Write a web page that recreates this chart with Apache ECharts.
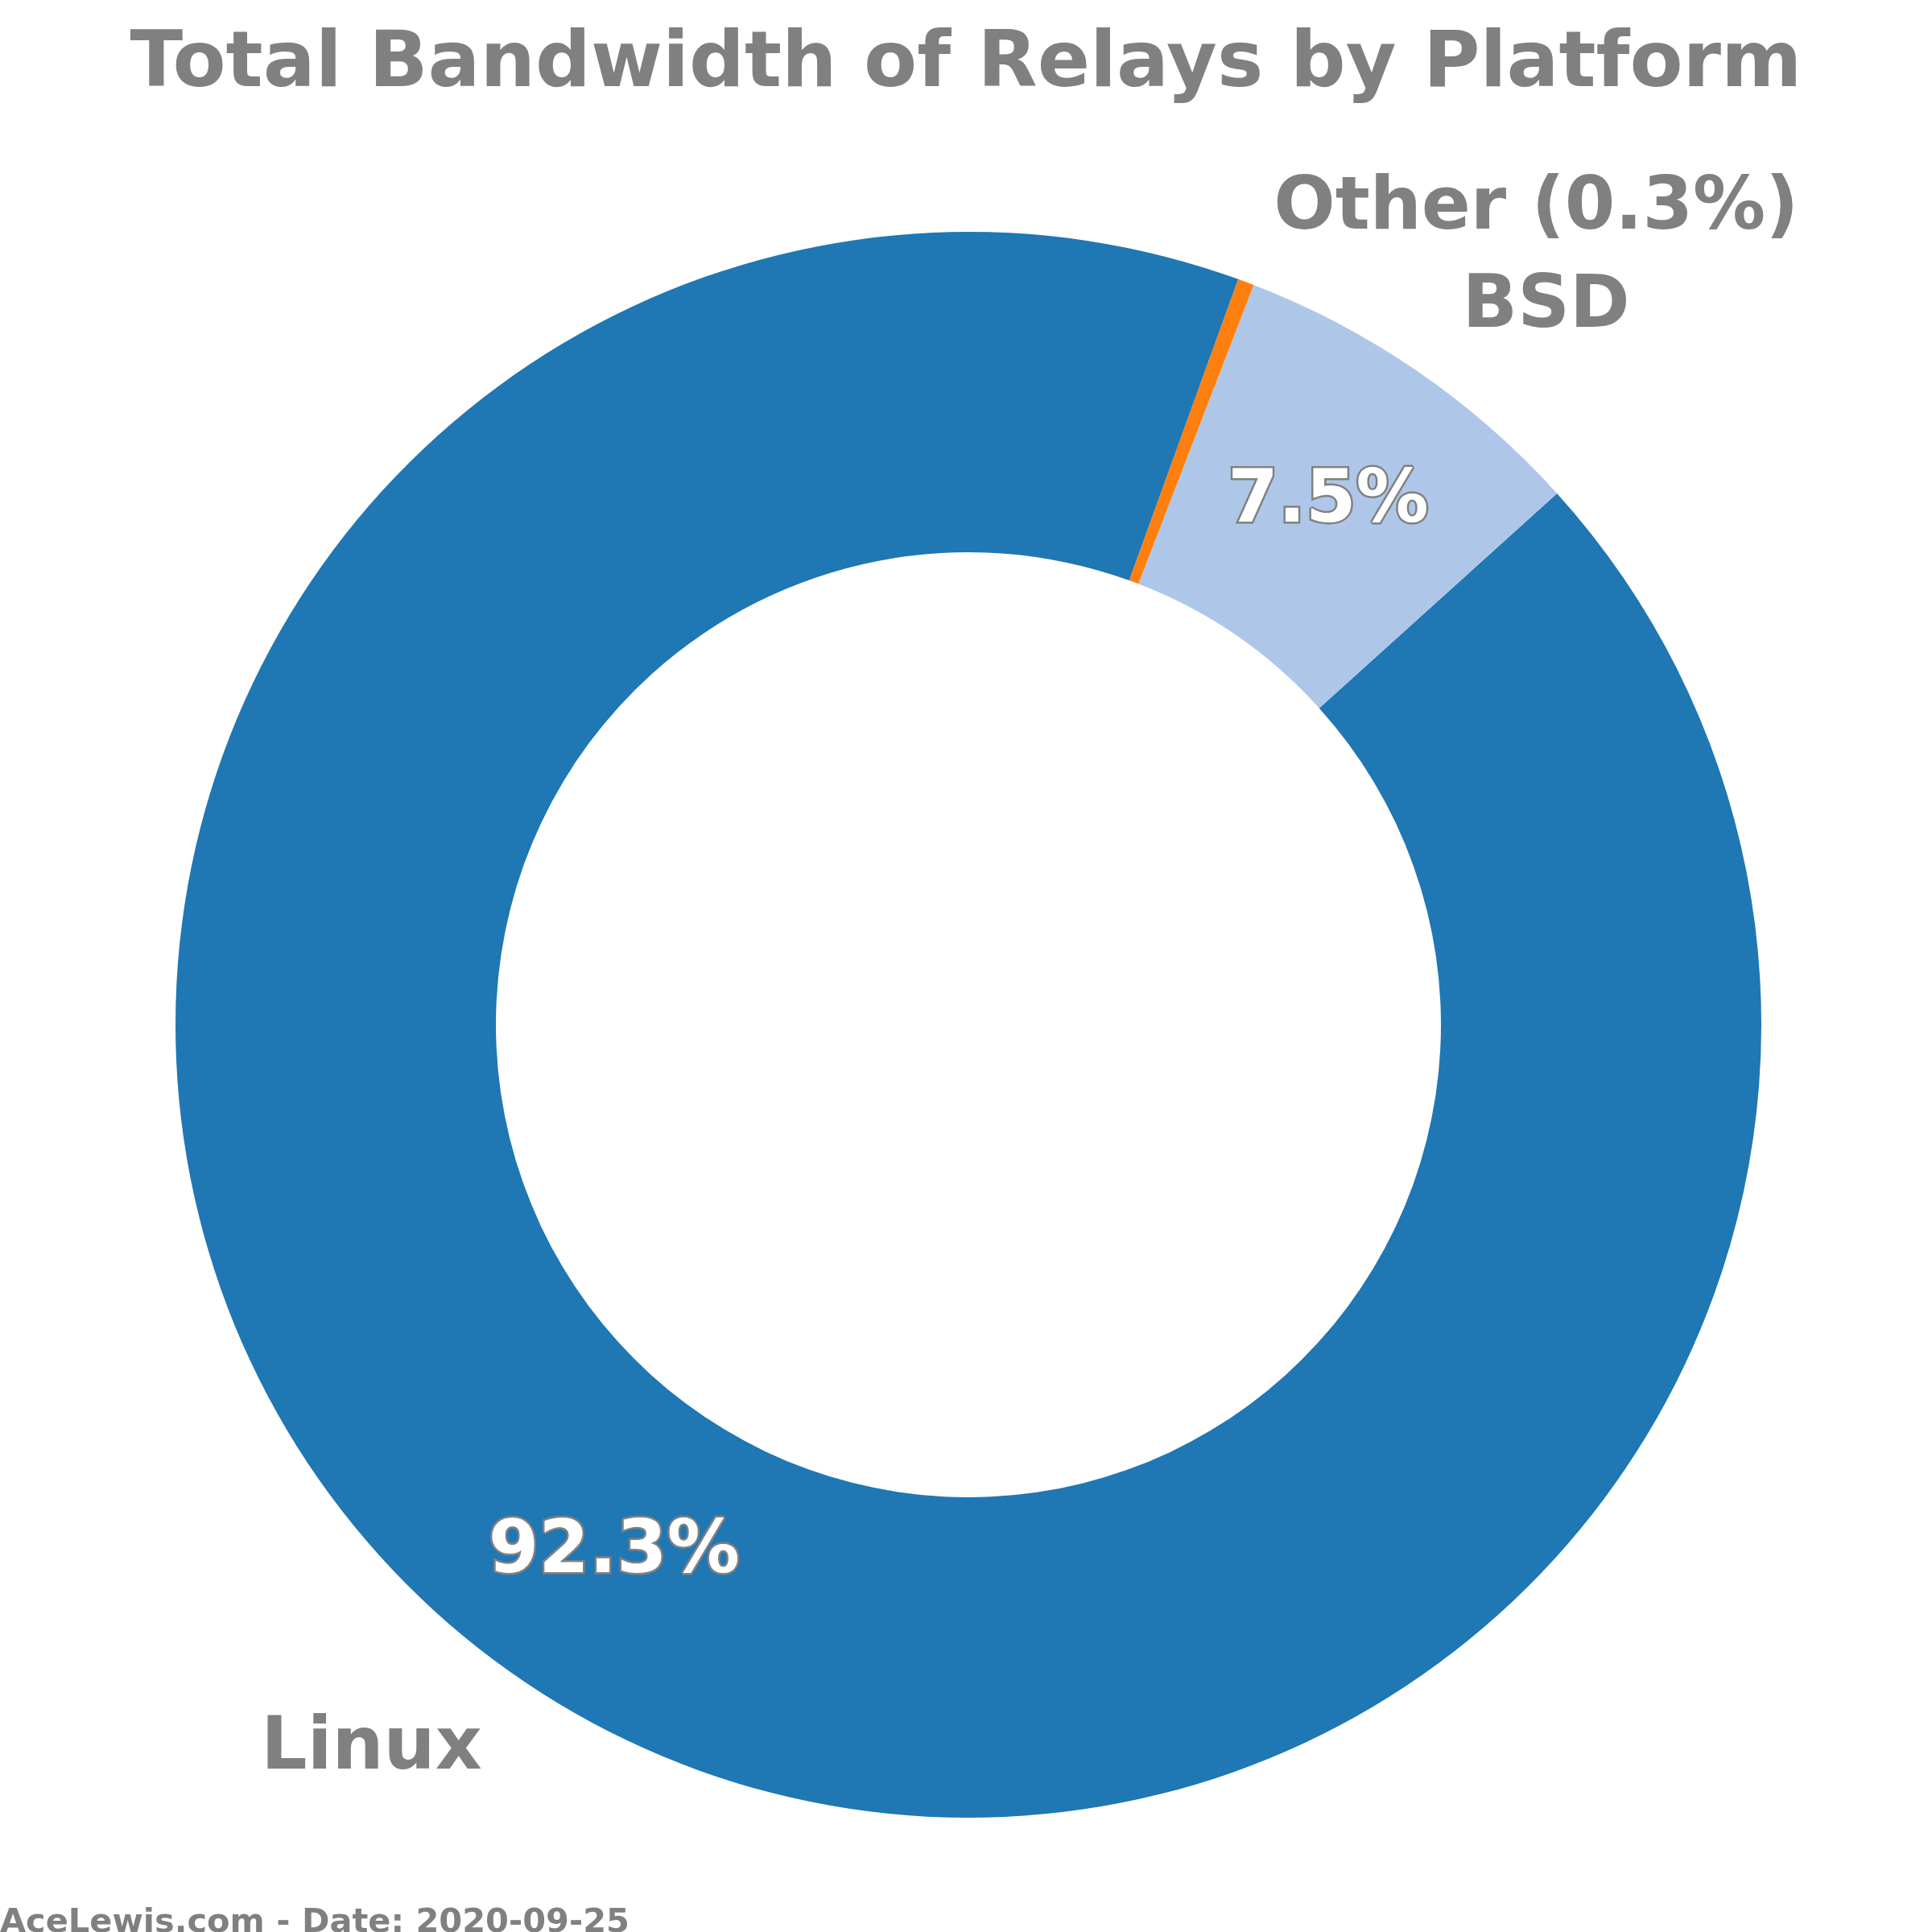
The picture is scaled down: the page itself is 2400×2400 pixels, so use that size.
<!DOCTYPE html>
<html>
<head>
<meta charset="utf-8">
<script src="https://cdn.jsdelivr.net/npm/echarts@6/dist/echarts.min.js"></script>
<style>
html,body{margin:0;padding:0;background:#fff;}
#chart{width:2400px;height:2400px;}
</style>
</head>
<body>
<div id="chart"></div>
<script>
// ---- data ----
const platforms = ['Linux', 'BSD', 'Other'];
const bandwidthShare = [92.26, 7.46, 0.33];
const nameLabels = ['Linux', 'BSD', 'Other (0.3%)'];
const percentLabels = ['92.3%', '7.5%', ''];
const chartTitle = 'Total Bandwidth of Relays by Platform';
const footerText = 'AceLewis.com - Date: 2020-09-25';

// ---- style ----
const palette = ['#1f77b4', '#aec7e8', '#ff7f0e'];
const grey = '#808080';
const font = 'DejaVu Sans';

const chart = echarts.init(document.getElementById('chart'), null, {renderer: 'canvas'});

const pieData = platforms.map((p, i) => ({name: p, value: bandwidthShare[i]}));

const common = {
  type: 'pie',
  center: [1203, 1273],
  radius: [587, 985],
  startAngle: 70.1,
  clockwise: false,
  avoidLabelOverlap: false,
  animation: false,
  emphasis: {disabled: true},
  data: pieData
};

chart.setOption({
  animation: false,
  color: palette,
  title: {
    text: chartTitle,
    left: 'center',
    top: 34,
    padding: 0,
    textStyle: {fontFamily: font, fontWeight: 'bold', fontSize: 96.3, color: grey}
  },
  graphic: [{
    type: 'text',
    left: 0,
    top: 2368,
    style: {text: footerText, fontFamily: font, fontWeight: 'bold', fontSize: 41.5, fill: grey}
  }],
  series: [
    Object.assign({}, common, {
      itemStyle: {borderWidth: 0},
      label: {
        show: true,
        position: 'inside',
        formatter: p => percentLabels[p.dataIndex],
        fontFamily: font, fontWeight: 'bold', fontSize: 90,
        color: '#ffffff', textBorderColor: grey, textBorderWidth: 5,
        offset: [0, 2]
      },
      labelLine: {show: false}
    }),
    Object.assign({}, common, {
      silent: true,
      itemStyle: {color: 'rgba(0,0,0,0)', borderWidth: 0},
      label: {
        show: true,
        position: 'outside',
        formatter: p => nameLabels[p.dataIndex],
        fontFamily: font, fontWeight: 'bold', fontSize: 90,
        color: grey,
        distanceToLabelLine: 0,
        offset: [0, 2]
      },
      labelLine: {show: false, length: 98, length2: 0}
    })
  ]
});
</script>
</body>
</html>
